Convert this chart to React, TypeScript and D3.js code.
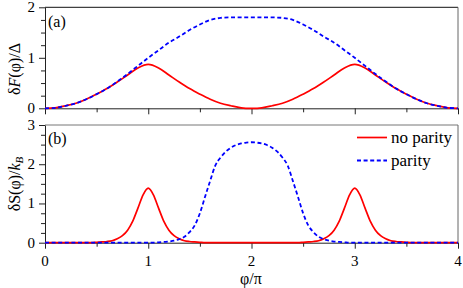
import { useEffect, useRef } from "react"
import * as d3 from "d3"

// phase grid (units of pi)
const phiA = [
  0, 0.1, 0.2, 0.3, 0.4, 0.5, 0.6, 0.7, 0.8, 0.9, 1.0, 1.1, 1.2, 1.3, 1.4, 1.5, 1.6, 1.7, 1.8, 1.9, 2.0,
  2.1, 2.2, 2.3, 2.4, 2.5, 2.6, 2.7, 2.8, 2.9, 3.0, 3.1, 3.2, 3.3, 3.4, 3.5, 3.6, 3.7, 3.8, 3.9, 4.0,
]
const freeNoParity = [
  0, 0.01, 0.05, 0.1, 0.18, 0.28, 0.39, 0.52, 0.66, 0.8, 0.87, 0.8, 0.66, 0.52, 0.39, 0.28, 0.18, 0.1, 0.05, 0.01, 0,
  0.01, 0.05, 0.1, 0.18, 0.28, 0.39, 0.52, 0.66, 0.8, 0.87, 0.8, 0.66, 0.52, 0.39, 0.28, 0.18, 0.1, 0.05, 0.01, 0,
]
const freeParity = [
  0, 0.01, 0.05, 0.1, 0.18, 0.28, 0.39, 0.53, 0.68, 0.84, 1.0, 1.15, 1.3, 1.42, 1.55, 1.66, 1.75, 1.79, 1.8, 1.8, 1.8,
  1.8, 1.8, 1.79, 1.75, 1.66, 1.55, 1.42, 1.3, 1.15, 1.0, 0.84, 0.68, 0.53, 0.39, 0.28, 0.18, 0.1, 0.05, 0.01, 0,
]

const phiB = [
  0, 0.05, 0.1, 0.15, 0.2, 0.25, 0.3, 0.35, 0.4, 0.45, 0.5, 0.55, 0.6, 0.65, 0.7, 0.75, 0.8, 0.85, 0.9, 0.95,
  1.0, 1.05, 1.1, 1.15, 1.2, 1.25, 1.3, 1.35, 1.4, 1.45, 1.5, 1.55, 1.6, 1.65, 1.7, 1.75, 1.8, 1.85, 1.9, 1.95,
  2.0, 2.05, 2.1, 2.15, 2.2, 2.25, 2.3, 2.35, 2.4, 2.45, 2.5, 2.55, 2.6, 2.65, 2.7, 2.75, 2.8, 2.85, 2.9, 2.95,
  3.0, 3.05, 3.1, 3.15, 3.2, 3.25, 3.3, 3.35, 3.4, 3.45, 3.5, 3.55, 3.6, 3.65, 3.7, 3.75, 3.8, 3.85, 3.9, 3.95,
  4.0,
]
const entropyNoParity = [
  0, 0, 0, 0, 0, 0, 0, 0, 0, 0, 0.01, 0.02, 0.03, 0.05, 0.1, 0.18, 0.32, 0.55, 0.88, 1.22,
  1.39, 1.22, 0.88, 0.55, 0.32, 0.18, 0.1, 0.05, 0.03, 0.02, 0.01, 0, 0, 0, 0, 0, 0, 0, 0, 0,
  0, 0, 0, 0, 0, 0, 0, 0, 0, 0, 0.01, 0.02, 0.03, 0.05, 0.1, 0.18, 0.32, 0.55, 0.88, 1.22,
  1.39, 1.22, 0.88, 0.55, 0.32, 0.18, 0.1, 0.05, 0.03, 0.02, 0.01, 0, 0, 0, 0, 0, 0, 0, 0, 0,
  0,
]
const entropyParity = [
  0, 0, 0, 0, 0, 0, 0, 0, 0, 0, 0, 0, 0, 0, 0, 0, 0, 0, 0, 0,
  0, 0, 0.01, 0.02, 0.03, 0.05, 0.09, 0.15, 0.27, 0.44, 0.75, 1.17, 1.58, 1.97, 2.17, 2.32, 2.42, 2.49, 2.53, 2.55,
  2.56, 2.55, 2.53, 2.49, 2.42, 2.32, 2.17, 1.97, 1.58, 1.17, 0.75, 0.44, 0.27, 0.15, 0.09, 0.05, 0.03, 0.02, 0.01, 0,
  0, 0, 0, 0, 0, 0, 0, 0, 0, 0, 0, 0, 0, 0, 0, 0, 0, 0, 0, 0,
  0,
]

const xTicks = [0, 1, 2, 3, 4]
const yTicksA = [0, 1, 2]
const yTicksB = [0, 1, 2, 3]
const legendLabels = ["no parity", "parity"]

const W = 463
const H = 288
const FONT = "Liberation Serif, Tinos, DejaVu Serif, Times New Roman, serif"
const RED = "#ff0000"
const BLUE = "#0000ff"

export default function App() {
  const svgRef = useRef<SVGSVGElement>(null)

  useEffect(() => {
    if (!svgRef.current) return
    const svg = d3.select(svgRef.current)
    svg.selectAll("*").remove()

    const x = d3.scaleLinear().domain([0, 4]).range([45, 458])
    const yA = d3.scaleLinear().domain([0, 2]).range([108.3, 7.3])
    const yB = d3.scaleLinear().domain([0, 3]).range([242.7, 125])

    const panel = (
      y: d3.ScaleLinear<number, number>,
      yTicks: number[],
      yMinor: number,
      showXLabels: boolean,
      topColor: string,
    ) => {
      const [y0, y1] = y.range()
      const [ymin, ymax] = y.domain()
      const g = svg.append("g")

      // frame
      g.append("line").attr("x1", x(0)).attr("x2", x(4)).attr("y1", y1).attr("y2", y1).attr("stroke", topColor)
      g.append("line").attr("x1", x(4)).attr("x2", x(4)).attr("y1", y1).attr("y2", y0).attr("stroke", "#666")

      // bottom axis
      const xb = g
        .append("g")
        .attr("transform", `translate(0,${y0})`)
        .call(
          d3
            .axisBottom(x)
            .tickValues(d3.range(0, 4.01, 0.5))
            .tickSizeInner(0)
            .tickSizeOuter(0)
            .tickFormat(() => ""),
        )
      xb.select(".domain").attr("stroke", "#222")
      xb.selectAll(".tick line")
        .attr("y2", (d: any) => (Number.isInteger(d) ? 6 : 4))
        .attr("stroke", "#222")
      if (showXLabels) {
        g.selectAll(".xl")
          .data(xTicks)
          .enter()
          .append("text")
          .attr("x", (d) => x(d))
          .attr("y", y0 + 23)
          .attr("text-anchor", "middle")
          .style("font-family", FONT)
          .attr("font-size", 15)
          .text((d) => d)
      }

      // left axis
      const ya = g
        .append("g")
        .attr("transform", `translate(${x(0)},0)`)
        .call(
          d3
            .axisLeft(y)
            .tickValues(d3.range(ymin, ymax + 0.001, yMinor))
            .tickSizeInner(0)
            .tickSizeOuter(0)
            .tickFormat(() => ""),
        )
      ya.select(".domain").attr("stroke", "#222")
      ya.selectAll(".tick line")
        .attr("x2", (d: any) => (Number.isInteger(d) ? -6 : -4))
        .attr("stroke", "#222")
      g.selectAll(".yl")
        .data(yTicks)
        .enter()
        .append("text")
        .attr("x", x(0) - 10)
        .attr("y", (d) => y(d) + 5)
        .attr("text-anchor", "end")
        .style("font-family", FONT)
        .attr("font-size", 15)
        .text((d) => d)
      return g
    }

    const gA = panel(yA, yTicksA, 0.25, false, "#111")
    const gB = panel(yB, yTicksB, 0.25, true, "#777")

    const lineA = (vals: number[]) =>
      d3
        .line<number>()
        .x((_, i) => x(phiA[i]))
        .y((d) => yA(d))
        .curve(d3.curveCatmullRom.alpha(0.5))(vals)
    const lineB = (vals: number[]) =>
      d3
        .line<number>()
        .x((_, i) => x(phiB[i]))
        .y((d) => yB(d))
        .curve(d3.curveMonotoneX)(vals)

    // panel (a) curves
    gA.append("path").attr("d", lineA(freeNoParity)).attr("fill", "none").attr("stroke", RED).attr("stroke-width", 1.7)
    gA.append("path")
      .attr("d", lineA(freeParity))
      .attr("fill", "none")
      .attr("stroke", BLUE)
      .attr("stroke-width", 1.8)
      .attr("stroke-dasharray", "4,2.6")

    // panel (b) curves
    gB.append("path").attr("d", lineB(entropyNoParity)).attr("fill", "none").attr("stroke", RED).attr("stroke-width", 1.7)
    gB.append("path")
      .attr("d", lineB(entropyParity))
      .attr("fill", "none")
      .attr("stroke", BLUE)
      .attr("stroke-width", 1.8)
      .attr("stroke-dasharray", "4,2.6")

    // panel tags
    gA.append("text").attr("x", 48).attr("y", 27).style("font-family", FONT).attr("font-size", 16).text("(a)")
    gB.append("text").attr("x", 48).attr("y", 144).style("font-family", FONT).attr("font-size", 16).text("(b)")

    // legend
    const legend = gB.append("g")
    legendLabels.forEach((label, i) => {
      const ly = 137.5 + i * 23
      legend
        .append("line")
        .attr("x1", 357)
        .attr("x2", 387)
        .attr("y1", ly)
        .attr("y2", ly)
        .attr("stroke", i === 0 ? RED : BLUE)
        .attr("stroke-width", i === 0 ? 1.7 : 1.8)
        .attr("stroke-dasharray", i === 0 ? null : "4,2.6")
      legend
        .append("text")
        .attr("x", 391)
        .attr("y", ly + 5)
        .style("font-family", FONT)
        .attr("font-size", 17)
        .text(label)
    })

    // axis titles
    const tA = svg
      .append("text")
      .attr("transform", `translate(20,${69}) rotate(-90)`)
      .attr("text-anchor", "middle")
      .style("font-family", FONT)
      .attr("font-size", 16)
    tA.append("tspan").text("δ")
    tA.append("tspan").attr("font-style", "italic").text("F")
    tA.append("tspan").text("(φ)/Δ")

    const tB = svg
      .append("text")
      .attr("transform", `translate(20,${184}) rotate(-90)`)
      .attr("text-anchor", "middle")
      .style("font-family", FONT)
      .attr("font-size", 16)
    tB.append("tspan").text("δS(φ)/")
    tB.append("tspan").attr("font-style", "italic").text("k")
    tB.append("tspan").attr("font-style", "italic").attr("font-size", 11).attr("dy", 3).text("B")

    svg
      .append("text")
      .attr("x", 251)
      .attr("y", 284)
      .attr("text-anchor", "middle")
      .style("font-family", FONT)
      .attr("font-size", 16)
      .text("φ/π")
  }, [])

  return (
    <svg
      ref={svgRef}
      width={W}
      height={H}
      style={{ position: "absolute", left: 0, top: 0, background: "#fff" }}
    />
  )
}
